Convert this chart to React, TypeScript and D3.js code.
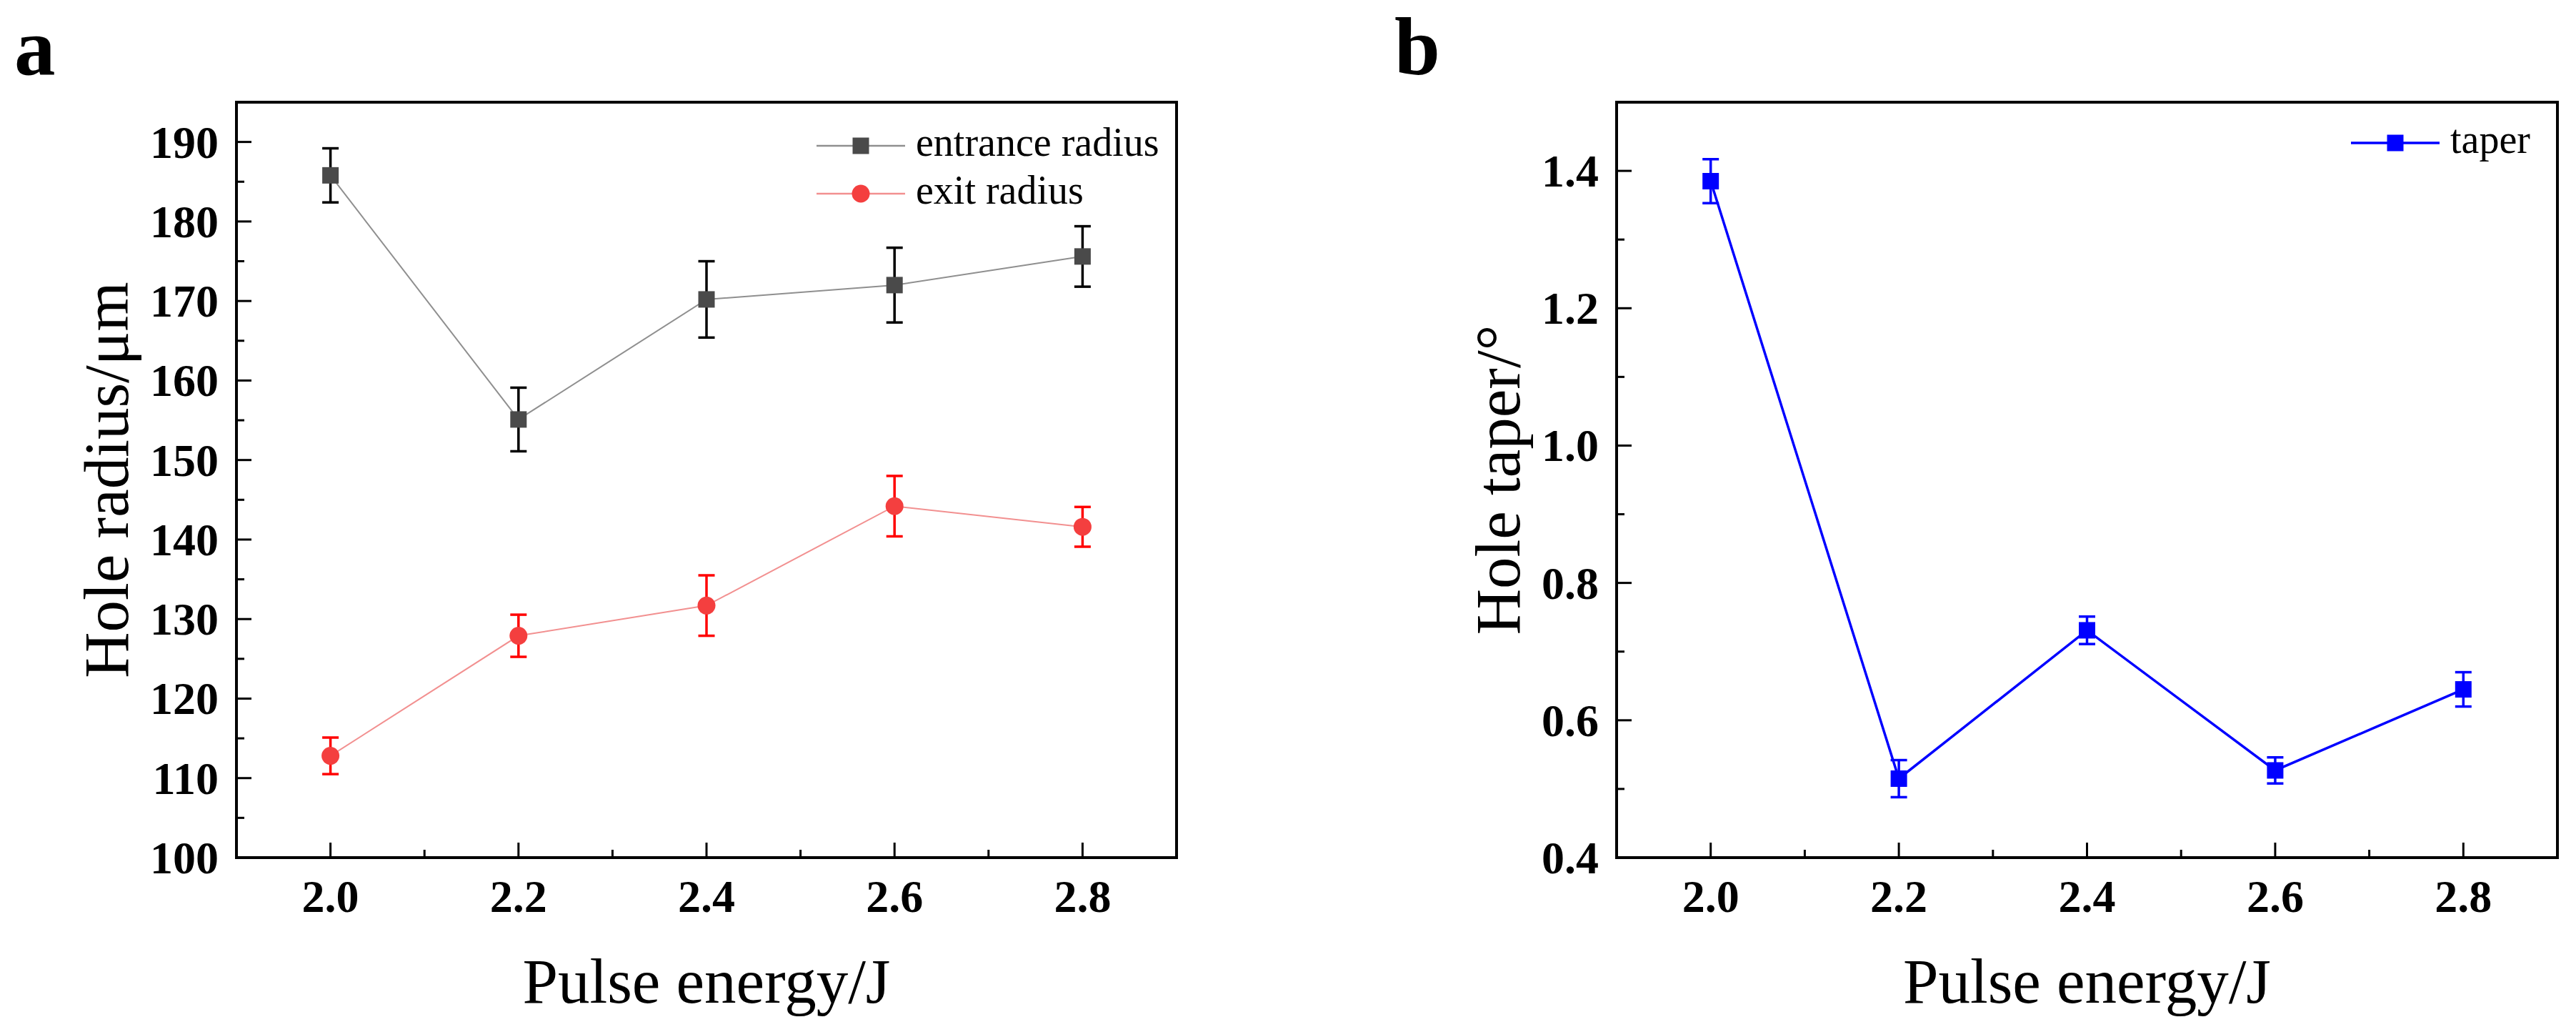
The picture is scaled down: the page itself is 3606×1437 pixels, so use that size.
import React from "react";
import * as d3 from "d3";

// ---- data ----
const energy = [2.0, 2.2, 2.4, 2.6, 2.8];
const entranceRadius = [185.8, 155.1, 170.2, 172.0, 175.6];
const entranceErr = [3.4, 4.0, 4.8, 4.7, 3.8];
const exitRadius = [112.8, 127.9, 131.7, 144.2, 141.6];
const exitErr = [2.3, 2.65, 3.8, 3.8, 2.5];
const taper = [1.385, 0.515, 0.731, 0.527, 0.645];
const taperErr = [0.032, 0.027, 0.02, 0.019, 0.025];

const xTickValues = [2.0, 2.2, 2.4, 2.6, 2.8];
const xTickLabels = ["2.0", "2.2", "2.4", "2.6", "2.8"];
const xMinorValues = [2.1, 2.3, 2.5, 2.7];
const yTicksA = [100, 110, 120, 130, 140, 150, 160, 170, 180, 190];
const yMinorA = [105, 115, 125, 135, 145, 155, 165, 175, 185];
const yTicksB = [0.4, 0.6, 0.8, 1.0, 1.2, 1.4];
const yTickLabelsB = ["0.4", "0.6", "0.8", "1.0", "1.2", "1.4"];
const yMinorB = [0.5, 0.7, 0.9, 1.1, 1.3];

const SERIF = "'Liberation Serif', 'Times New Roman', serif";

type Series = {
  name: string;
  values: number[];
  errs: number[];
  lineColor: string;
  lineWidth: number;
  markerColor: string;
  errColor: string;
  shape: "square" | "circle";
};

type PanelProps = {
  letter: string;
  letterX: number;
  left: number;
  right: number;
  top: number;
  bottom: number;
  yDomain: [number, number];
  yTicks: number[];
  yTickLabels: string[];
  yMinor: number[];
  yTitle: string;
  yTitleX: number;
  series: Series[];
  legendX: number; // start of legend line
  legendY: number;
};

function Marker({ shape, x, y, color }: { shape: string; x: number; y: number; color: string }) {
  if (shape === "circle") return <circle cx={x} cy={y} r={12.5} fill={color} />;
  return <rect x={x - 11.5} y={y - 11.5} width={23} height={23} fill={color} />;
}

function Panel(p: PanelProps) {
  const x = d3.scaleLinear().domain([1.9, 2.9]).range([p.left, p.right]);
  const y = d3.scaleLinear().domain(p.yDomain).range([p.bottom, p.top]);
  const major = 21;
  const minor = 11;
  const cx = (p.left + p.right) / 2;
  const cy = (p.top + p.bottom) / 2;
  return (
    <g>
      <text x={p.letterX} y={104} fontFamily={SERIF} fontWeight="bold" fontSize={115}>
        {p.letter}
      </text>
      {/* ticks */}
      {xTickValues.map((v) => (
        <line key={"xt" + v} x1={x(v)} x2={x(v)} y1={p.bottom} y2={p.bottom - major} stroke="#000" strokeWidth={3} />
      ))}
      {xMinorValues.map((v) => (
        <line key={"xm" + v} x1={x(v)} x2={x(v)} y1={p.bottom} y2={p.bottom - minor} stroke="#000" strokeWidth={3} />
      ))}
      {p.yTicks.map((v) => (
        <line key={"yt" + v} x1={p.left} x2={p.left + major} y1={y(v)} y2={y(v)} stroke="#000" strokeWidth={3} />
      ))}
      {p.yMinor.map((v) => (
        <line key={"ym" + v} x1={p.left} x2={p.left + minor} y1={y(v)} y2={y(v)} stroke="#000" strokeWidth={3} />
      ))}
      {/* tick labels */}
      {xTickValues.map((v, i) => (
        <text key={"xl" + v} x={x(v)} y={1276} textAnchor="middle" fontFamily={SERIF} fontWeight="bold" fontSize={64}>
          {xTickLabels[i]}
        </text>
      ))}
      {p.yTicks.map((v, i) => (
        <text key={"yl" + v} x={p.left - 25} y={y(v) + 22} textAnchor="end" fontFamily={SERIF} fontWeight="bold" fontSize={64}>
          {p.yTickLabels[i]}
        </text>
      ))}
      {/* axis titles */}
      <text x={cx} y={1403} textAnchor="middle" fontFamily={SERIF} fontSize={89}>
        Pulse energy/J
      </text>
      <text
        transform={`translate(${p.yTitleX},${cy}) rotate(-90)`}
        textAnchor="middle"
        fontFamily={SERIF}
        fontSize={89}
      >
        {p.yTitle}
      </text>
      {/* series */}
      {p.series.map((s) => {
        const line = d3
          .line<number>()
          .x((_, i) => x(energy[i]))
          .y((d) => y(d));
        return (
          <g key={s.name}>
            <path d={line(s.values) || ""} fill="none" stroke={s.lineColor} strokeWidth={s.lineWidth} />
            {s.values.map((v, i) => {
              const px = x(energy[i]);
              const yt = y(v + s.errs[i]);
              const yb = y(v - s.errs[i]);
              return (
                <g key={i}>
                  <line x1={px} x2={px} y1={yt} y2={yb} stroke={s.errColor} strokeWidth={3.5} />
                  <line x1={px - 11.5} x2={px + 11.5} y1={yt} y2={yt} stroke={s.errColor} strokeWidth={3.5} />
                  <line x1={px - 11.5} x2={px + 11.5} y1={yb} y2={yb} stroke={s.errColor} strokeWidth={3.5} />
                  <Marker shape={s.shape} x={px} y={y(v)} color={s.markerColor} />
                </g>
              );
            })}
          </g>
        );
      })}
      {/* legend */}
      {p.series.map((s, i) => {
        const ly = p.legendY + i * 67;
        return (
          <g key={"lg" + s.name}>
            <line x1={p.legendX} x2={p.legendX + 124} y1={ly} y2={ly} stroke={s.lineColor} strokeWidth={Math.max(s.lineWidth, 2.5)} />
            <Marker shape={s.shape} x={p.legendX + 62} y={ly} color={s.markerColor} />
            <text x={p.legendX + 139} y={ly + 14} fontFamily={SERIF} fontSize={56}>
              {s.name}
            </text>
          </g>
        );
      })}
      {/* frame */}
      <rect x={p.left} y={p.top} width={p.right - p.left} height={p.bottom - p.top} fill="none" stroke="#000" strokeWidth={4} />
    </g>
  );
}

export default function App() {
  const seriesA: Series[] = [
    {
      name: "entrance radius",
      values: entranceRadius,
      errs: entranceErr,
      lineColor: "#8f8f8f",
      lineWidth: 2,
      markerColor: "#4a4a4a",
      errColor: "#000000",
      shape: "square",
    },
    {
      name: "exit radius",
      values: exitRadius,
      errs: exitErr,
      lineColor: "#f29090",
      lineWidth: 2,
      markerColor: "#f43f3f",
      errColor: "#ff0000",
      shape: "circle",
    },
  ];
  const seriesB: Series[] = [
    {
      name: "taper",
      values: taper,
      errs: taperErr,
      lineColor: "#0000ff",
      lineWidth: 3.5,
      markerColor: "#0000ff",
      errColor: "#0000ff",
      shape: "square",
    },
  ];
  return (
    <svg
      width={3606}
      height={1437}
      viewBox="0 0 3606 1437"
      style={{ position: "absolute", left: 0, top: 0, background: "#fff" }}
    >
      <rect width={3606} height={1437} fill="#fff" />
      <Panel
        letter="a"
        letterX={20}
        left={331}
        right={1647}
        top={143}
        bottom={1200}
        yDomain={[100, 195]}
        yTicks={yTicksA}
        yTickLabels={yTicksA.map((v) => String(v))}
        yMinor={yMinorA}
        yTitle="Hole radius/μm"
        yTitleX={179}
        series={seriesA}
        legendX={1143}
        legendY={204}
      />
      <Panel
        letter="b"
        letterX={1952}
        left={2263}
        right={3580}
        top={143}
        bottom={1200}
        yDomain={[0.4, 1.5]}
        yTicks={yTicksB}
        yTickLabels={yTickLabelsB}
        yMinor={yMinorB}
        yTitle="Hole taper/°"
        yTitleX={2127}
        series={seriesB}
        legendX={3291}
        legendY={200}
      />
    </svg>
  );
}
